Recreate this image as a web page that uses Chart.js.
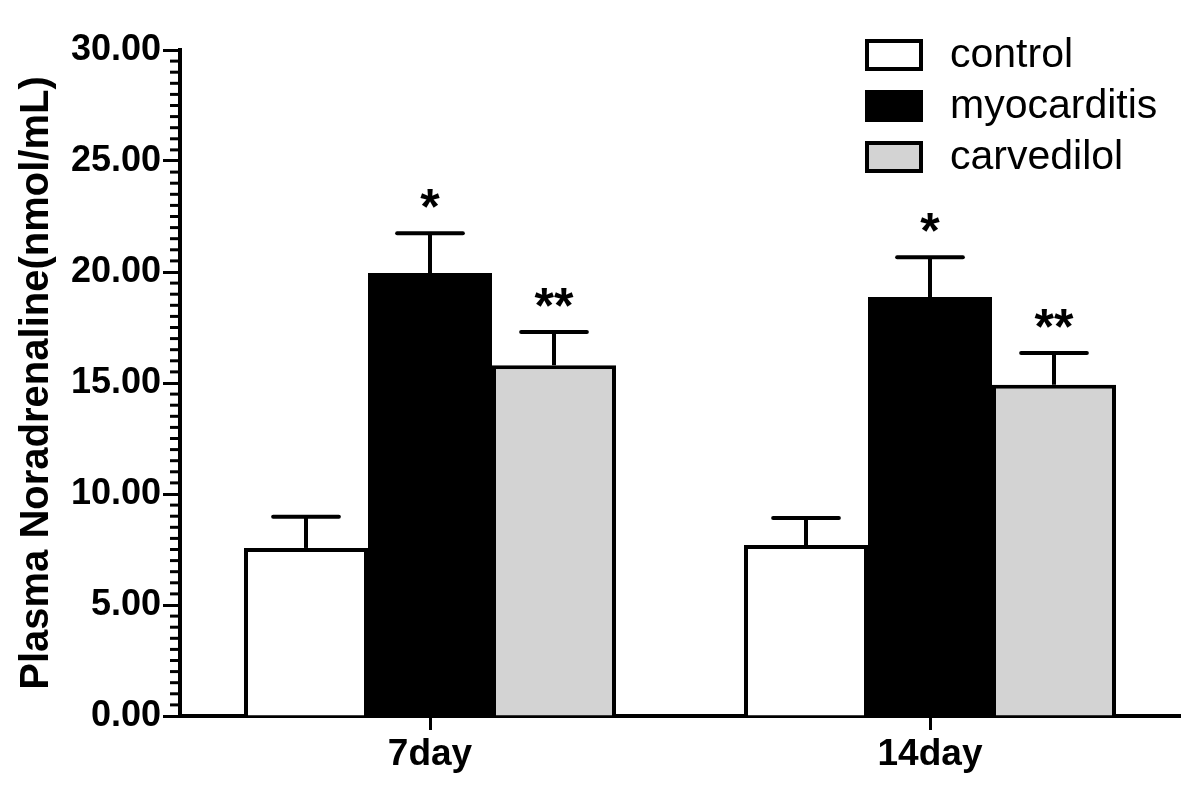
<!DOCTYPE html>
<html>
<head>
<meta charset="utf-8">
<script src="https://cdn.jsdelivr.net/npm/chart.js@4.4.1/dist/chart.umd.min.js"></script>
<style>
  html, body { margin: 0; padding: 0; background: #ffffff; }
  #wrap { width: 1200px; height: 795px; }
</style>
</head>
<body>
<div id="wrap"><canvas id="c" width="1200" height="795"></canvas></div>
<script>
// ---- data ----
const categories = ['7day', '14day'];
const seriesNames = ['control', 'myocarditis', 'carvedilol'];
const controlMeans = [7.57, 7.70];
const controlErr = [1.40, 1.22];
const myocarditisMeans = [19.95, 18.87];
const myocarditisErr = [1.80, 1.80];
const carvedilolMeans = [15.80, 14.92];
const carvedilolErr = [1.50, 1.43];
const controlMarks = ['', ''];
const myocarditisMarks = ['*', '*'];
const carvedilolMarks = ['**', '**'];
const yMin = 0, yMax = 30, yMajorStep = 5, yMinorStep = 0.5;
const yTitle = 'Plasma Noradrenaline(nmol/mL)';

const FONT = "'Liberation Sans', Arial, sans-serif";

const errPlugin = {
  id: 'errbars',
  afterDatasetsDraw(chart) {
    const ctx = chart.ctx;
    const ys = chart.scales.y;
    chart.data.datasets.forEach((ds, di) => {
      const meta = chart.getDatasetMeta(di);
      meta.data.forEach((el, i) => {
        const v = ds.data[i], e = ds.errors[i];
        const yTop = ys.getPixelForValue(v);
        const yCap = ys.getPixelForValue(v + e);
        const half = el.width * 0.265;
        ctx.save();
        ctx.strokeStyle = '#000';
        ctx.lineWidth = 4;
        ctx.lineCap = 'butt';
        ctx.beginPath();
        ctx.moveTo(el.x, yTop);
        ctx.lineTo(el.x, yCap);
        ctx.stroke();
        ctx.lineCap = 'round';
        ctx.beginPath();
        ctx.moveTo(el.x - half, yCap);
        ctx.lineTo(el.x + half, yCap);
        ctx.stroke();
        const mark = ds.marks[i];
        if (mark) {
          ctx.fillStyle = '#000';
          ctx.font = "bold 50px " + FONT;
          ctx.textAlign = 'center';
          ctx.textBaseline = 'alphabetic';
          ctx.fillText(mark, el.x, yCap - 9);
        }
        ctx.restore();
      });
    });
  }
};

const minorTickPlugin = {
  id: 'minorTicks',
  afterDraw(chart) {
    const ctx = chart.ctx;
    const ys = chart.scales.y;
    const x0 = chart.chartArea.left;
    ctx.save();
    ctx.strokeStyle = '#000';
    ctx.lineWidth = 3;
    for (let v = yMin; v <= yMax + 1e-9; v += yMinorStep) {
      if (Math.abs(v / yMajorStep - Math.round(v / yMajorStep)) < 1e-6) continue;
      const y = ys.getPixelForValue(v);
      ctx.beginPath();
      ctx.moveTo(x0 - 10, y);
      ctx.lineTo(x0, y);
      ctx.stroke();
    }
    ctx.restore();
  }
};

const legendPlugin = {
  id: 'customLegend',
  afterDraw(chart) {
    const ctx = chart.ctx;
    const x = 865, y0 = 39, w = 58, h = 32, gap = 51;
    ctx.save();
    chart.data.datasets.forEach((ds, i) => {
      const y = y0 + i * gap;
      ctx.fillStyle = ds.backgroundColor;
      ctx.fillRect(x, y, w, h);
      ctx.strokeStyle = '#000';
      ctx.lineWidth = 4;
      ctx.strokeRect(x + 2, y + 2, w - 4, h - 4);
      ctx.fillStyle = '#000';
      ctx.font = "41px " + FONT;
      ctx.textAlign = 'left';
      ctx.textBaseline = 'middle';
      ctx.fillText(ds.label, 950, y + h / 2 + 1);
    });
    ctx.restore();
  }
};

const mk = (name, data, errs, marks, fill, bw) => ({
  label: name, data: data, errors: errs, marks: marks,
  backgroundColor: fill, borderColor: '#000', borderWidth: bw,
  borderSkipped: 'bottom', inflateAmount: 0,
  categoryPercentage: 0.744, barPercentage: 1.0
});

new Chart(document.getElementById('c'), {
  type: 'bar',
  data: {
    labels: categories,
    datasets: [
      mk(seriesNames[0], controlMeans, controlErr, controlMarks, '#ffffff', 4),
      mk(seriesNames[1], myocarditisMeans, myocarditisErr, myocarditisMarks, '#000000', 0),
      mk(seriesNames[2], carvedilolMeans, carvedilolErr, carvedilolMarks, '#d3d3d3', 4)
    ]
  },
  options: {
    responsive: false,
    animation: false,
    layout: { padding: { left: 0, right: 20, top: 50, bottom: 0 } },
    plugins: { legend: { display: false }, tooltip: { enabled: false } },
    scales: {
      x: {
        grid: { display: true, offset: false, drawOnChartArea: false, drawTicks: true, tickLength: 14, tickWidth: 3, tickColor: '#000' },
        border: { display: true, color: '#000', width: 4 },
        ticks: { color: '#000', font: { family: FONT, size: 37, weight: 'bold' }, padding: 3 },
        afterFit(s) { s.height = 79; }
      },
      y: {
        min: yMin, max: yMax,
        grid: { display: true, drawOnChartArea: false, drawTicks: true, tickLength: 17, tickWidth: 3, tickColor: '#000' },
        border: { display: true, color: '#000', width: 4 },
        ticks: {
          stepSize: yMajorStep, color: '#000', padding: 2,
          font: { family: FONT, size: 36, weight: 'bold' },
          callback: (v) => Number(v).toFixed(2)
        },
        title: {
          display: true, text: yTitle, color: '#000',
          font: { family: FONT, size: 40, weight: 'bold' },
          padding: { top: 13, bottom: 0 }
        },
        afterFit(s) { s.width = 180; }
      }
    }
  },
  plugins: [errPlugin, minorTickPlugin, legendPlugin]
});
</script>
</body>
</html>
